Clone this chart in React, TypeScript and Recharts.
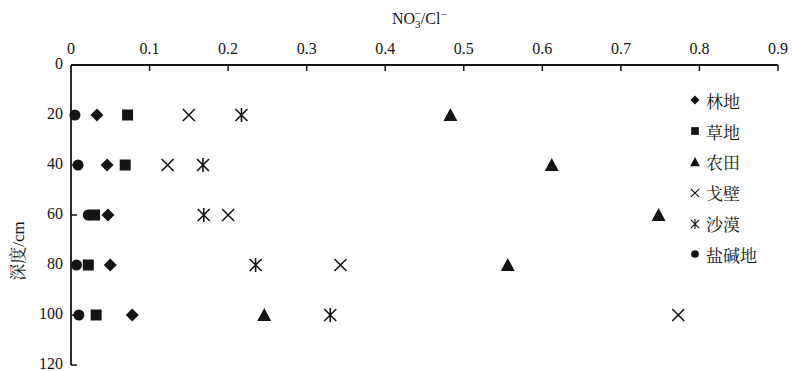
import { ScatterChart, Scatter, XAxis, YAxis } from "recharts";

const INK = "#141414";
const FONT = "'Liberation Serif', 'Noto Serif CJK SC', 'Noto Sans CJK SC', serif";

const depths = [20, 40, 60, 80, 100];
const xTicks = [0, 0.1, 0.2, 0.3, 0.4, 0.5, 0.6, 0.7, 0.8, 0.9];
const yTicks = [0, 20, 40, 60, 80, 100, 120];

// NO3-/Cl- ratio at each depth
const linDi = [0.033, 0.046, 0.047, 0.05, 0.078];
const caoDi = [0.072, 0.069, 0.03, 0.022, 0.032];
const nongTian = [0.483, 0.612, 0.748, 0.556, 0.246];
const geBi = [0.15, 0.123, 0.2, 0.343, 0.773];
const shaMo = [0.217, 0.168, 0.169, 0.235, 0.33];
const yanJian = [0.005, 0.009, 0.022, 0.007, 0.01];

const toPoints = (vals: number[]) => vals.map((v, i) => ({ x: v, y: depths[i] }));

const Dot = ({ cx, cy }: any) => <circle cx={cx} cy={cy} r={5.5} fill={INK} />;
const Sq = ({ cx, cy }: any) => <rect x={cx - 5.5} y={cy - 5.5} width={11} height={11} fill={INK} />;
const Dia = ({ cx, cy }: any) => (
  <polygon points={`${cx},${cy - 6.5} ${cx + 6.5},${cy} ${cx},${cy + 6.5} ${cx - 6.5},${cy}`} fill={INK} />
);
const Tri = ({ cx, cy }: any) => (
  <polygon points={`${cx},${cy - 7} ${cx + 7},${cy + 6} ${cx - 7},${cy + 6}`} fill={INK} />
);
const XMark = ({ cx, cy }: any) => (
  <path d={`M${cx - 6},${cy - 6}L${cx + 6},${cy + 6}M${cx + 6},${cy - 6}L${cx - 6},${cy + 6}`} stroke={INK} strokeWidth={1.6} />
);
const Ast = ({ cx, cy }: any) => (
  <path
    d={`M${cx - 6},${cy - 6}L${cx + 6},${cy + 6}M${cx + 6},${cy - 6}L${cx - 6},${cy + 6}M${cx},${cy - 7}L${cx},${cy + 7}`}
    stroke={INK}
    strokeWidth={1.6}
  />
);

const series = [
  { name: "盐碱地", data: yanJian, shape: Dot },
  { name: "林地", data: linDi, shape: Dia },
  { name: "草地", data: caoDi, shape: Sq },
  { name: "戈壁", data: geBi, shape: XMark },
  { name: "沙漠", data: shaMo, shape: Ast },
  { name: "农田", data: nongTian, shape: Tri },
];

const legendOrder = ["林地", "草地", "农田", "戈壁", "沙漠", "盐碱地"];

const XTick = ({ x, y, payload }: any) => (
  <g>
    {payload.value !== 0 && <line x1={x} y1={y} x2={x} y2={y + 6} stroke={INK} strokeWidth={1.5} />}
    <text x={x} y={y - 11} textAnchor="middle" fontSize={16} fontFamily={FONT} fill={INK}>
      {payload.value}
    </text>
  </g>
);

const YTick = ({ x, y, payload }: any) => (
  <g>
    {payload.value !== 0 && <line x1={x} y1={y} x2={x + 6} y2={y} stroke={INK} strokeWidth={1.5} />}
    <text x={x - 8} y={y + 4} textAnchor="end" fontSize={16} fontFamily={FONT} fill={INK}>
      {payload.value}
    </text>
  </g>
);

const LegendMark = ({ shape: S }: any) => (
  <svg width={12} height={12} style={{ marginRight: 5 }}>
    <g transform="translate(6,6) scale(0.7) translate(-6,-6)">
      <S cx={6} cy={6} />
    </g>
  </svg>
);

export default function App() {
  return (
    <div style={{ position: "absolute", left: 0, top: 0, width: 792, height: 371, background: "#fff" }}>
      <ScatterChart width={792} height={371} margin={{ top: 25, right: 14, bottom: 6, left: 21 }}>
        <XAxis
          type="number"
          dataKey="x"
          orientation="top"
          domain={[0, 0.9]}
          ticks={xTicks}
          height={40}
          tickSize={0}
          tickMargin={0}
          tickLine={false}
          tick={<XTick />}
          axisLine={{ stroke: INK, strokeWidth: 1.8 }}
          interval={0}
          label={{
            content: () => (
              <text x={392} y={24} fontSize={16} fontFamily={FONT} fill={INK}>
                NO
                <tspan fontSize={11} dy={4}>3</tspan>
                <tspan fontSize={11} dx={-6} dy={-11}>−</tspan>
                <tspan dy={7}>/Cl</tspan>
                <tspan fontSize={11} dy={-6}>−</tspan>
              </text>
            ),
          }}
        />
        <YAxis
          type="number"
          dataKey="y"
          reversed
          domain={[0, 120]}
          ticks={yTicks}
          width={50}
          tickSize={0}
          tickMargin={0}
          tickLine={false}
          tick={<YTick />}
          axisLine={{ stroke: INK, strokeWidth: 1.8 }}
          interval={0}
          label={{
            content: () => (
              <text
                x={18}
                y={251}
                transform="rotate(-90, 18, 251)"
                textAnchor="middle"
                dominantBaseline="central"
                fontSize={17}
                fontFamily={FONT}
                fill={INK}
              >
                深度/cm
              </text>
            ),
          }}
        />
        {series.map((s) => (
          <Scatter
            key={s.name}
            name={s.name}
            data={toPoints(s.data)}
            shape={s.shape}
            isAnimationActive={false}
          />
        ))}
      </ScatterChart>
      <div style={{ position: "absolute", left: 689, top: 85, fontFamily: FONT, fontSize: 17, color: INK }}>
        {legendOrder.map((n) => {
          const s = series.find((q) => q.name === n)!;
          return (
            <div key={n} style={{ display: "flex", alignItems: "center", height: 30.8 }}>
              <LegendMark shape={s.shape} />
              <span>{n}</span>
            </div>
          );
        })}
      </div>
    </div>
  );
}
